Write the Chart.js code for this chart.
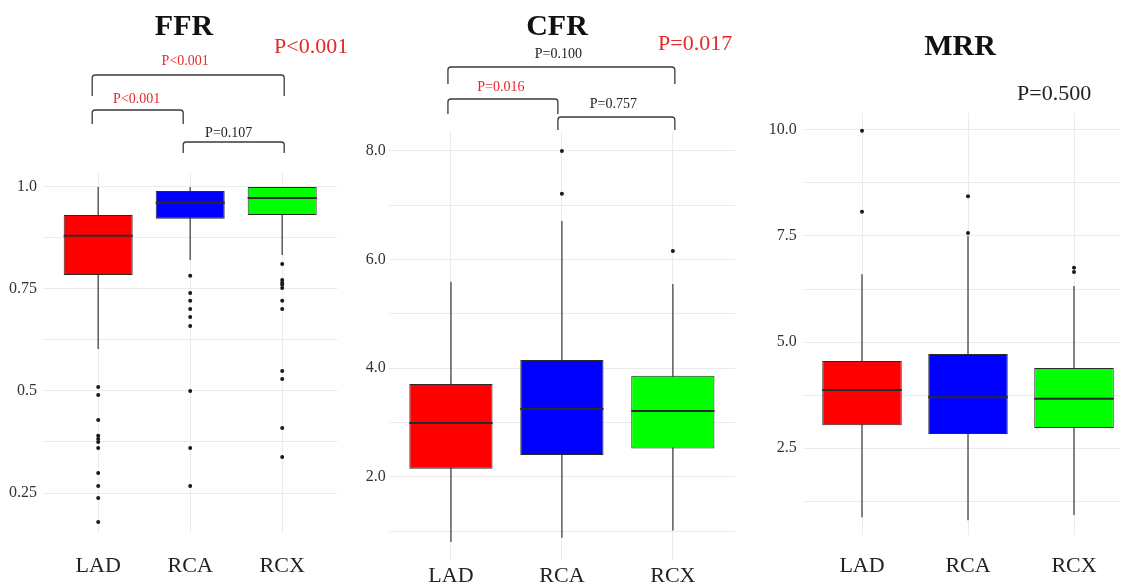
<!DOCTYPE html>
<html>
<head>
<meta charset="utf-8">
<script src="https://cdn.jsdelivr.net/npm/chart.js@4.4.1/dist/chart.umd.min.js"></script>
<style>
  body { margin: 0; background: #fff; }
  #wrap { position: relative; width: 1121px; height: 582px; overflow: hidden; background: #fff; }
  canvas { position: absolute; top: 0; }
</style>
</head>
<body>
<div id="wrap">
  <canvas id="ffr" width="365" height="582" style="left:0px"></canvas>
  <canvas id="cfr" width="400" height="582" style="left:345px"></canvas>
  <canvas id="mrr" width="392" height="582" style="left:750px"></canvas>
</div>
<script>
const categories = ['LAD', 'RCA', 'RCX']
const boxColors = ['#ff0000', '#0000ff', '#00ff00']

// FFR
const ffrLow = [0.603, 0.821, 0.833]
const ffrQ1 = [0.784, 0.922, 0.931]
const ffrMedian = [0.880, 0.961, 0.973]
const ffrQ3 = [0.931, 0.990, 1.0]
const ffrHigh = [1.0, 1.0, 1.0]
const ffrOutliers = [
  [0.51, 0.49, 0.429, 0.39, 0.382, 0.375, 0.36, 0.299, 0.267, 0.238, 0.179],
  [0.782, 0.74, 0.721, 0.701, 0.681, 0.659, 0.5, 0.36, 0.267],
  [0.811, 0.772, 0.765, 0.76, 0.752, 0.721, 0.701, 0.549, 0.529, 0.409, 0.338]
]
const ffrTicks = [0.25, 0.5, 0.75, 1.0]
const ffrTickLabels = ['0.25', '0.5', '0.75', '1.0']
const ffrMinor = [0.375, 0.625, 0.875]
const ffrP = 'P<0.001'
const ffrPairs = [[1, 3], [1, 2], [2, 3]]
const ffrPairP = ['P<0.001', 'P<0.001', 'P=0.107']

// CFR
const cfrLow = [0.80, 0.88, 1.01]
const cfrQ1 = [2.15, 2.40, 2.52]
const cfrMedian = [2.99, 3.25, 3.21]
const cfrQ3 = [3.71, 4.15, 3.86]
const cfrHigh = [5.59, 6.71, 5.55]
const cfrOutliers = [[], [7.21, 8.0], [6.16]]
const cfrTicks = [2, 4, 6, 8]
const cfrTickLabels = ['2.0', '4.0', '6.0', '8.0']
const cfrMinor = [1, 3, 5, 7]
const cfrP = 'P=0.017'
const cfrPairs = [[1, 3], [1, 2], [2, 3]]
const cfrPairP = ['P=0.100', 'P=0.016', 'P=0.757']

// MRR
const mrrLow = [0.87, 0.80, 0.92]
const mrrQ1 = [3.04, 2.83, 2.97]
const mrrMedian = [3.87, 3.70, 3.66]
const mrrQ3 = [4.55, 4.72, 4.39]
const mrrHigh = [6.60, 7.50, 6.32]
const mrrOutliers = [[9.98, 8.07], [7.57, 8.44], [6.75, 6.65]]
const mrrTicks = [2.5, 5, 7.5, 10]
const mrrTickLabels = ['2.5', '5.0', '7.5', '10.0']
const mrrMinor = [1.25, 3.75, 6.25, 8.75]
const mrrP = 'P=0.500'

const RED = '#e62828'
const INK = '#222'
const SERIF = '"Liberation Serif", "Times New Roman", serif'

const drawPanel = (canvasId, title, s, t, notes, lay) => {
  const points = []
  s.outliers.forEach((list, i) => list.forEach(v => points.push({ x: i + 1, y: v })))
  const allTicks = t.major.concat(t.minor)
  const off = lay.left

  const extras = {
    id: 'extras_' + canvasId,
    afterDatasetsDraw(chart) {
      const ctx = chart.ctx
      const y = chart.scales.y
      const meta = chart.getDatasetMeta(1)
      ctx.save()
      ctx.strokeStyle = '#2a2a2a'
      ctx.lineWidth = 2
      meta.data.forEach((bar, i) => {
        const py = y.getPixelForValue(s.median[i])
        ctx.beginPath()
        ctx.moveTo(bar.x - bar.width / 2, py)
        ctx.lineTo(bar.x + bar.width / 2, py)
        ctx.stroke()
      })
      ctx.restore()
    },
    afterDraw(chart) {
      const ctx = chart.ctx
      const x = chart.scales.x
      ctx.save()
      ctx.textBaseline = 'alphabetic'
      ctx.textAlign = 'center'
      ctx.fillStyle = '#111'
      ctx.font = 'bold 30px ' + SERIF
      ctx.fillText(title, lay.titleX - off, lay.titleY)

      ctx.textAlign = 'left'
      ctx.font = '22px ' + SERIF
      ctx.fillStyle = notes.pColor
      ctx.fillText(notes.p, lay.pX - off, lay.pY)

      // brackets
      ctx.strokeStyle = '#3a3a3a'
      ctx.lineWidth = 1.3
      ctx.font = '14px ' + SERIF
      ctx.textAlign = 'center'
      notes.pairs.forEach((pair, k) => {
        const x1 = x.getPixelForValue(pair[0]) + lay.shift[pair[0] - 1]
        const x2 = x.getPixelForValue(pair[1]) + lay.shift[pair[1] - 1]
        const yl = lay.bracketY[k][0]
        const yb = lay.bracketY[k][1]
        const r = 3
        ctx.beginPath()
        ctx.moveTo(x1, yb)
        ctx.lineTo(x1, yl + r)
        ctx.quadraticCurveTo(x1, yl, x1 + r, yl)
        ctx.lineTo(x2 - r, yl)
        ctx.quadraticCurveTo(x2, yl, x2, yl + r)
        ctx.lineTo(x2, yb)
        ctx.stroke()
        ctx.fillStyle = notes.pairColors[k]
        ctx.fillText(notes.pairP[k], (x1 + x2) / 2 + lay.textShift[k], lay.textY[k])
      })
      ctx.restore()
    }
  }

  new Chart(document.getElementById(canvasId), {
    type: 'bar',
    data: {
      datasets: [
        {
          label: 'whisker',
          data: categories.map((c, i) => ({ x: i + 1, y: [s.low[i], s.high[i]] })),
          backgroundColor: '#5c5c5c',
          borderWidth: 0,
          maxBarThickness: 1.5,
          grouped: false,
          order: 2
        },
        {
          label: 'box',
          data: categories.map((c, i) => ({ x: i + 1, y: [s.q1[i], s.q3[i]] })),
          backgroundColor: boxColors,
          borderColor: '#2a2a2a',
          borderWidth: 1,
          borderSkipped: false,
          categoryPercentage: 0.75,
          barPercentage: 1,
          grouped: false,
          order: 1
        },
        {
          type: 'scatter',
          label: 'outliers',
          data: points,
          pointRadius: 2,
          pointBackgroundColor: '#1a1a1a',
          pointBorderWidth: 0,
          order: 0
        }
      ]
    },
    options: {
      responsive: false,
      animation: false,
      devicePixelRatio: 1,
      events: [],
      layout: {
        padding: { top: lay.plotTop, right: lay.width - (lay.plotRight - off), bottom: 0, left: 0 }
      },
      plugins: { legend: { display: false }, tooltip: { enabled: false }, title: { display: false } },
      scales: {
        x: {
          type: 'linear',
          bounds: 'data',
          offset: false,
          min: lay.xMin,
          max: lay.xMax,
          afterBuildTicks: axis => { axis.ticks = categories.map((c, i) => ({ value: i + 1 })) },
          afterFit: axis => { axis.height = 582 - lay.plotBottom },
          grid: { color: '#ebebeb', lineWidth: 1, drawTicks: false, offset: false },
          border: { display: false },
          ticks: {
            autoSkip: false,
            maxRotation: 0,
            padding: lay.xPad,
            color: INK,
            font: { family: SERIF, size: 22 },
            callback: v => categories[v - 1]
          }
        },
        y: {
          type: 'linear',
          bounds: 'data',
          min: lay.yMin,
          max: lay.yMax,
          afterBuildTicks: axis => { axis.ticks = allTicks.map(v => ({ value: v })) },
          afterFit: axis => { axis.width = lay.plotLeft - off },
          grid: { color: '#ebebeb', lineWidth: 1, drawTicks: false },
          border: { display: false },
          ticks: {
            autoSkip: false,
            padding: lay.yPad,
            color: '#333',
            font: { family: SERIF, size: 16 },
            callback: v => {
              const k = t.major.indexOf(v)
              return k >= 0 ? t.labels[k] : ''
            }
          }
        }
      }
    },
    plugins: [extras]
  })
}

drawPanel('ffr', 'FFR',
  { low: ffrLow, q1: ffrQ1, median: ffrMedian, q3: ffrQ3, high: ffrHigh, outliers: ffrOutliers },
  { major: ffrTicks, labels: ffrTickLabels, minor: ffrMinor },
  { p: ffrP, pColor: RED, pairs: ffrPairs, pairP: ffrPairP, pairColors: [RED, RED, INK] },
  { left: 0, width: 365, plotLeft: 43, plotRight: 337.4, plotTop: 173, plotBottom: 533,
    xMin: 0.4, xMax: 3.6, yMin: 0.152, yMax: 1.034, yPad: 6, xPad: 20,
    titleX: 184, titleY: 35, pX: 274, pY: 53,
    shift: [-6, -7, 2], bracketY: [[75, 96], [110, 124], [142, 153]],
    textY: [65, 103, 137], textShift: [-3, -1, -5] })

drawPanel('cfr', 'CFR',
  { low: cfrLow, q1: cfrQ1, median: cfrMedian, q3: cfrQ3, high: cfrHigh, outliers: cfrOutliers },
  { major: cfrTicks, labels: cfrTickLabels, minor: cfrMinor },
  { p: cfrP, pColor: RED, pairs: cfrPairs, pairP: cfrPairP, pairColors: [INK, RED, INK] },
  { left: 345, width: 400, plotLeft: 388.8, plotRight: 735, plotTop: 131.4, plotBottom: 561,
    xMin: 0.44, xMax: 3.56, yMin: 0.45, yMax: 8.36, yPad: 3, xPad: 2,
    titleX: 557, titleY: 35, pX: 658, pY: 50,
    shift: [-3, -4, 2], bracketY: [[67, 84], [99, 114], [117, 130]],
    textY: [58, 91, 108], textShift: [-3, -2, -3] })

drawPanel('mrr', 'MRR',
  { low: mrrLow, q1: mrrQ1, median: mrrMedian, q3: mrrQ3, high: mrrHigh, outliers: mrrOutliers },
  { major: mrrTicks, labels: mrrTickLabels, minor: mrrMinor },
  { p: mrrP, pColor: INK, pairs: [], pairP: [], pairColors: [] },
  { left: 750, width: 392, plotLeft: 803.7, plotRight: 1132.3, plotTop: 113, plotBottom: 535,
    xMin: 0.45, xMax: 3.55, yMin: 0.45, yMax: 10.4, yPad: 7, xPad: 18,
    titleX: 960, titleY: 55, pX: 1017, pY: 100,
    shift: [0, 0, 0], bracketY: [], textY: [], textShift: [] })
</script>
</body>
</html>
